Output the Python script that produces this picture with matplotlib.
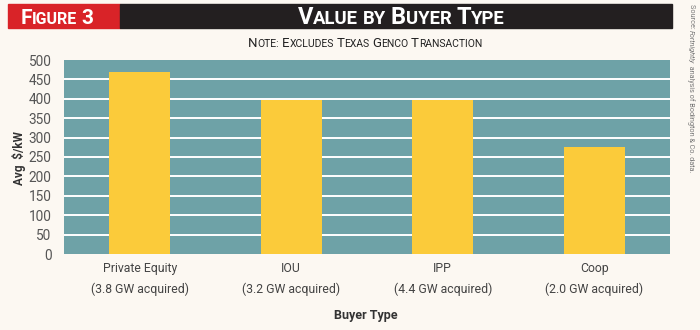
import matplotlib.pyplot as plt
from matplotlib.patches import Rectangle

# values for each buyer type (avg $/kW)
buyer_types = ['Private Equity', 'IOU', 'IPP', 'Coop']
acquired = ['3.8 GW acquired', '3.2 GW acquired', '4.4 GW acquired', '2.0 GW acquired']
avg_value = [470, 398, 396, 276]
y_ticks = [0, 50, 100, 150, 200, 250, 300, 350, 400, 450, 500]

BG = '#fcf8f2'
TEAL = '#6ea2a7'
GOLD = '#fbcb3a'
RED = '#d92328'
BLACK = '#231f20'
NARROW = ['Liberation Sans Narrow', 'Roboto', 'DejaVu Sans']


def small_caps(fig, x, y, words, big, small, **kw):
    """Draw upper-case words, first letter larger, centred at x.
    Words starting with '_' are drawn all small."""
    renderer = fig.canvas.get_renderer()
    pieces = []
    for i, w in enumerate(words):
        if i:
            pieces.append((' ', small))
        if w.startswith('_'):
            pieces.append((w[1:], small))
            continue
        pieces.append((w[0], big))
        if len(w) > 1:
            pieces.append((w[1:], small))
    widths = []
    for s, size in pieces:
        t = fig.text(0, 0, s, fontsize=size, **kw)
        bb = t.get_window_extent(renderer)
        widths.append(bb.width / fig.bbox.width)
        t.remove()
    pos = x - sum(widths) / 2
    for (s, size), w in zip(pieces, widths):
        fig.text(pos, y, s, fontsize=size, va='baseline', ha='left', **kw)
        pos += w


def vertical_run(fig, x, y, pieces, **kw):
    """Stack rotated text pieces top to bottom starting at y."""
    renderer = fig.canvas.get_renderer()
    for s, style in pieces:
        t = fig.text(x, y, s, rotation=-90, ha='center', va='top',
                     fontstyle=style, **kw)
        y -= t.get_window_extent(renderer).height / fig.bbox.height


fig = plt.figure(figsize=(7, 3.3), dpi=100, facecolor=BG)

# header bar
fig.patches.append(Rectangle((8 / 700, 1 - 28 / 330), 112 / 700, 24 / 330,
                             transform=fig.transFigure, color=RED, zorder=0))
fig.patches.append(Rectangle((120 / 700, 1 - 28 / 330), 552 / 700, 24 / 330,
                             transform=fig.transFigure, color=BLACK, zorder=0))
small_caps(fig, 57 / 700, 1 - 23.5 / 330, ['FIGURE', '3'], 15, 11.5,
           color='white', fontweight='bold', family=NARROW)
small_caps(fig, 401 / 700, 1 - 23.5 / 330, ['VALUE', '_BY', 'BUYER', 'TYPE'], 17, 13.3,
           color='white', fontweight='bold', family=NARROW)
small_caps(fig, 365 / 700, 1 - 47 / 330,
           ['NOTE:', 'EXCLUDES', 'TEXAS', 'GENCO', 'TRANSACTION'], 9.5, 7.5,
           color='#222222', family=NARROW)

vertical_run(fig, 691 / 700, 1 - 4 / 330,
             [('Source: ', 'normal'), ('Fortnightly', 'italic'),
              (' analysis of Bodington & Co. data.', 'normal')],
             fontsize=5.2, color='#777777', family=NARROW)

ax = fig.add_axes([64 / 700, 76 / 330, 606 / 700, 194 / 330])
ax.set_facecolor(TEAL)
x = range(len(buyer_types))
ax.bar(x, avg_value, width=0.4, color=GOLD, zorder=3)

ax.set_xlim(-0.5, len(buyer_types) - 0.5)
ax.set_ylim(0, 500)
ax.set_yticks(y_ticks)
for v in y_ticks[1:-1]:
    ax.axhline(v, color='white', lw=1.4, zorder=2)

ax.set_xticks(list(x))
ax.set_xticklabels([f'{b}\n({a})' for b, a in zip(buyer_types, acquired)],
                   fontsize=8.8, color='#444444', family=NARROW, linespacing=1.65)
ax.tick_params(axis='y', labelsize=9.8, labelcolor='#555555', length=0, pad=9)
ax.tick_params(axis='x', length=0, pad=6)
for lbl in ax.get_yticklabels():
    lbl.set_family(NARROW)
for side in ax.spines.values():
    side.set_visible(False)

fig.text(19 / 700, 1 - 158 / 330, 'Avg  $/kW', rotation=90, ha='center', va='center',
         fontsize=8.5, fontweight='bold', color='#333333', family=NARROW)
fig.text(366 / 700, 1 - 316 / 330, 'Buyer Type', ha='center', va='center',
         fontsize=9, fontweight='bold', color='#333333', family=NARROW)

fig.savefig('out.png', dpi=100, facecolor=BG)
